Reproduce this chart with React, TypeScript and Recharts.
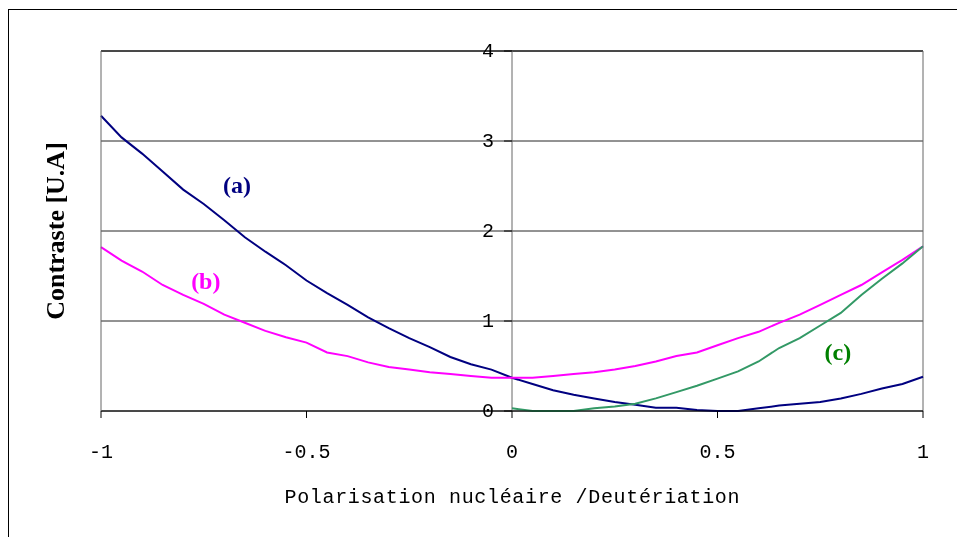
import React from 'react';
import { LineChart, Line, XAxis, YAxis, CartesianGrid, ReferenceLine, ReferenceDot, Label } from 'recharts';

// abscisse : polarisation / deutériation, pas de 0.05
const X_VALUES = [
  -1, -0.95, -0.9, -0.85, -0.8, -0.75, -0.7, -0.65, -0.6, -0.55, -0.5,
  -0.45, -0.4, -0.35, -0.3, -0.25, -0.2, -0.15, -0.1, -0.05, 0,
  0.05, 0.1, 0.15, 0.2, 0.25, 0.3, 0.35, 0.4, 0.45, 0.5,
  0.55, 0.6, 0.65, 0.7, 0.75, 0.8, 0.85, 0.9, 0.95, 1,
];

// (a)
const SERIES_A = [
  3.28, 3.04, 2.86, 2.66, 2.46, 2.3, 2.12, 1.93, 1.77, 1.62, 1.45,
  1.31, 1.18, 1.04, 0.92, 0.81, 0.71, 0.6, 0.52, 0.46, 0.37,
  0.3, 0.23, 0.18, 0.14, 0.1, 0.07, 0.035, 0.035, 0.01, 0,
  0, 0.03, 0.06, 0.08, 0.1, 0.14, 0.19, 0.25, 0.3, 0.38,
];

// (b)
const SERIES_B = [
  1.82, 1.67, 1.55, 1.4, 1.29, 1.19, 1.07, 0.98, 0.89, 0.82, 0.76,
  0.65, 0.61, 0.54, 0.49, 0.46, 0.43, 0.41, 0.39, 0.37, 0.37,
  0.37, 0.39, 0.41, 0.43, 0.46, 0.5, 0.55, 0.61, 0.65, 0.73,
  0.81, 0.88, 0.98, 1.07, 1.18, 1.29, 1.4, 1.54, 1.68, 1.83,
];

// (c) : seulement pour x >= 0
const SERIES_C = [
  null, null, null, null, null, null, null, null, null, null,
  null, null, null, null, null, null, null, null, null, null, 0.03,
  0, 0, 0, 0.03, 0.05, 0.08, 0.14, 0.21, 0.28, 0.36,
  0.44, 0.55, 0.7, 0.81, 0.95, 1.09, 1.29, 1.47, 1.64, 1.83,
];

const X_TICKS = [-1, -0.5, 0, 0.5, 1];
const Y_TICKS = [0, 1, 2, 3, 4];

const CURVE_NAMES = ['(a)', '(b)', '(c)'];

const CHART_W = 940;
const CHART_H = 512;
const Y_AXIS_W = 92;
const X_AXIS_H = 109;
const MARGIN = { top: 43, right: 26, left: 0, bottom: 0 };
const PLOT_W = CHART_W - MARGIN.right - Y_AXIS_W;
const ZERO_X = Y_AXIS_W + PLOT_W / 2;

const TICK_FONT = '"Liberation Mono", monospace';
const TITLE_FONT = '"Liberation Serif", "Times New Roman", serif';

const data = X_VALUES.map((x, i) => ({ x, a: SERIES_A[i], b: SERIES_B[i], c: SERIES_C[i] }));

// étiquettes des courbes (coordonnées en unités du graphe)
const annotations = [
  { text: CURVE_NAMES[0], x: -0.669, y: 2.51, color: '#000080' },
  { text: CURVE_NAMES[1], x: -0.745, y: 1.44, color: '#FF00FF' },
  { text: CURVE_NAMES[2], x: 0.793, y: 0.66, color: '#008000' },
];

const XTick = (props: any) => {
  const { x, y, payload } = props;
  return (
    <text x={x} y={y + 34} textAnchor="middle" dominantBaseline="central" fontFamily={TICK_FONT} fontSize={20} fill="#000">
      {payload.value}
    </text>
  );
};

// graduations de l'axe Y dessinées sur la ligne x = 0
const YTick = (props: any) => {
  const { y, payload } = props;
  return (
    <g>
      <line x1={ZERO_X - 8} x2={ZERO_X} y1={y} y2={y} stroke="#000" />
      <text x={ZERO_X - 18} y={y} textAnchor="end" dominantBaseline="central" fontFamily={TICK_FONT} fontSize={20} fill="#000">
        {payload.value}
      </text>
    </g>
  );
};

export default function App() {
  return (
    <div style={{ width: CHART_W, height: CHART_H, paddingLeft: 1 }}>
      {/* cadre extérieur (bords haut et gauche seulement visibles) */}
      <div style={{ position: 'fixed', left: 8, top: 9, width: 1200, height: 800, borderLeft: '1px solid #000', borderTop: '1px solid #000', pointerEvents: 'none' }} />
      <LineChart width={CHART_W} height={CHART_H} data={data} margin={MARGIN}>
        <CartesianGrid vertical={false} stroke="#262626" />
        <XAxis
          type="number"
          dataKey="x"
          domain={[-1, 1]}
          ticks={X_TICKS}
          height={X_AXIS_H}
          tickSize={7}
          tickMargin={0}
          tick={<XTick />}
          axisLine={{ stroke: '#000' }}
          tickLine={{ stroke: '#000' }}
        >
          <Label
            content={({ viewBox }: any) => (
              <text
                x={viewBox.x + viewBox.width / 2}
                y={viewBox.y + 86}
                textAnchor="middle"
                dominantBaseline="central"
                fontFamily={TICK_FONT}
                fontSize={20}
                textLength={455}
                fill="#000"
              >
                Polarisation nucléaire /Deutériation
              </text>
            )}
          />
        </XAxis>
        <YAxis
          type="number"
          domain={[0, 4]}
          ticks={Y_TICKS}
          width={Y_AXIS_W}
          tickLine={false}
          tick={<YTick />}
          axisLine={{ stroke: '#666' }}
        >
          <Label
            content={({ viewBox }: any) => {
              const cy = viewBox.y + viewBox.height / 2;
              return (
                <text
                  x={46}
                  y={cy}
                  transform={`rotate(-90, 46, ${cy})`}
                  textAnchor="middle"
                  dominantBaseline="central"
                  fontFamily={TITLE_FONT}
                  fontWeight="bold"
                  fontSize={26}
                  fill="#000"
                >
                  Contraste [U.A]
                </text>
              );
            }}
          />
        </YAxis>
        <ReferenceLine y={4} stroke="#000" />
        <ReferenceLine x={1} stroke="#666" />
        <ReferenceLine x={0} stroke="#666" />
        <Line type="linear" dataKey="a" stroke="#000080" strokeWidth={2} dot={false} isAnimationActive={false} />
        <Line type="linear" dataKey="b" stroke="#FF00FF" strokeWidth={2} dot={false} isAnimationActive={false} />
        <Line type="linear" dataKey="c" stroke="#339966" strokeWidth={2} dot={false} isAnimationActive={false} />
        {annotations.map((a) => (
          <ReferenceDot
            key={a.text}
            x={a.x}
            y={a.y}
            r={0}
            shape={(p: any) => (
              <text x={p.cx} y={p.cy} textAnchor="middle" dominantBaseline="central" fontFamily={TITLE_FONT} fontWeight="bold" fontSize={24} fill={a.color}>
                {a.text}
              </text>
            )}
          />
        ))}
      </LineChart>
    </div>
  );
}
